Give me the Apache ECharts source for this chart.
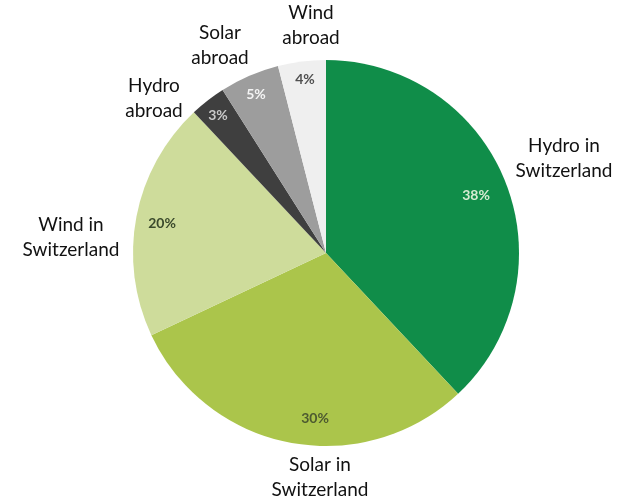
<!DOCTYPE html>
<html>
<head>
<meta charset="utf-8">
<script src="https://cdn.jsdelivr.net/npm/echarts@6/dist/echarts.min.js"></script>
<style>
  html, body { margin: 0; padding: 0; background: #ffffff; }
  #chart { width: 633px; height: 502px; }
</style>
</head>
<body>
<div id="chart"></div>
<script>
// Electricity supply mix, share in percent
const sources = ['Hydro in\nSwitzerland', 'Solar in\nSwitzerland', 'Wind in\nSwitzerland', 'Hydro\nabroad', 'Solar\nabroad', 'Wind\nabroad'];
const shares = [38, 30, 20, 3, 5, 4];

// Presentation
const sliceColors = ['#108d49', '#abc54b', '#cedc9b', '#3f3f3f', '#9d9d9d', '#efefef'];
const pctColors = ['#d6ebd2', '#4d5a30', '#3b4a2c', '#c9c9c9', '#f4f4f4', '#505050'];
const pctLabelAt = [[476, 195], [315, 418], [162, 223], [218, 115], [256, 94], [305, 79]];
const nameLabelAt = [[564, 158], [320, 477], [71, 237], [154, 98], [220, 45], [311, 25]];

const CENTER = [326, 253];
const RADIUS = 193;

const pieData = sources.map((s, i) => ({ name: s, value: shares[i] }));

const chart = echarts.init(document.getElementById('chart'), null, { renderer: 'canvas' });
chart.setOption({
  animation: false,
  backgroundColor: '#ffffff',
  color: sliceColors,
  series: [
    {
      // filled slices with percentage labels
      type: 'pie',
      center: CENTER,
      radius: RADIUS,
      startAngle: 90,
      clockwise: true,
      silent: true,
      itemStyle: { borderWidth: 0 },
      label: {
        show: true,
        position: 'inside',
        formatter: p => p.value + '%',
        fontFamily: 'Lato',
        fontWeight: 'bold',
        fontSize: 14
      },
      labelLine: { show: false },
      labelLayout: p => ({
        x: pctLabelAt[p.dataIndex][0],
        y: pctLabelAt[p.dataIndex][1],
        align: 'center',
        verticalAlign: 'middle'
      }),
      data: pieData.map((d, i) => ({
        name: d.name,
        value: d.value,
        label: { color: pctColors[i] }
      }))
    },
    {
      // category names placed around the pie
      type: 'pie',
      center: CENTER,
      radius: RADIUS,
      startAngle: 90,
      clockwise: true,
      silent: true,
      itemStyle: { color: 'rgba(0,0,0,0)', borderWidth: 0 },
      label: {
        show: true,
        position: 'inside',
        formatter: p => p.name,
        fontFamily: 'Lato',
        fontSize: 19,
        lineHeight: 25,
        color: '#111111',
        align: 'center'
      },
      labelLine: { show: false },
      labelLayout: p => ({
        x: nameLabelAt[p.dataIndex][0],
        y: nameLabelAt[p.dataIndex][1],
        align: 'center',
        verticalAlign: 'middle'
      }),
      data: pieData
    }
  ]
});
</script>
</body>
</html>
